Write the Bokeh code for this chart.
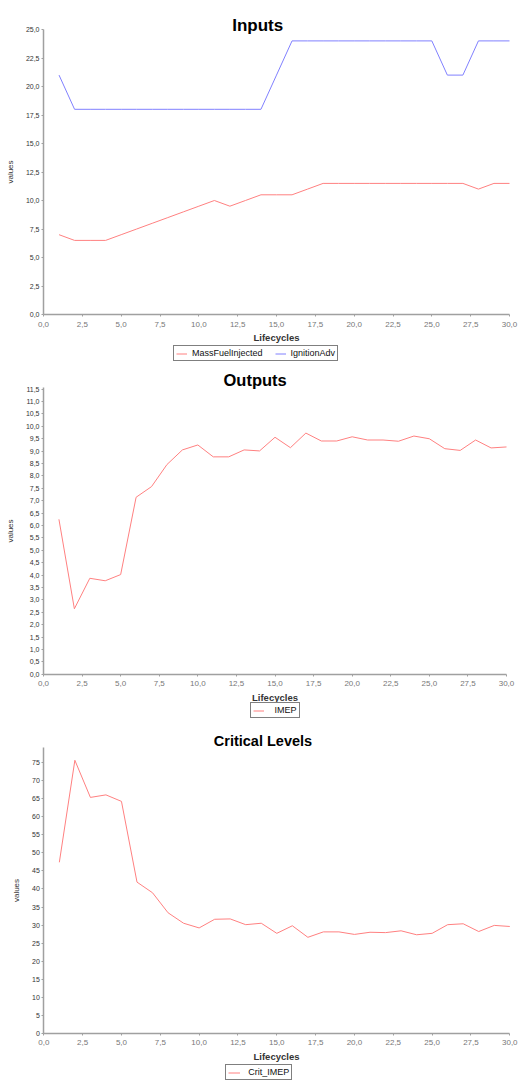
from bokeh.plotting import figure
from bokeh.models import Range1d, FixedTicker, CustomJSTickFormatter, Legend, LegendItem, Label
from bokeh.layouts import column
from bokeh.embed import file_html
from bokeh.resources import INLINE

# ---------------- data ----------------
lifecycles = list(range(1, 31))

mass_fuel_injected = [7.0, 6.5, 6.5, 6.5, 7.0, 7.5, 8.0, 8.5, 9.0, 9.5,
                      10.0, 9.5, 10.0, 10.5, 10.5, 10.5, 11.0, 11.5, 11.5, 11.5,
                      11.5, 11.5, 11.5, 11.5, 11.5, 11.5, 11.5, 11.0, 11.5, 11.5]
ignition_adv = [21, 18, 18, 18, 18, 18, 18, 18, 18, 18,
                18, 18, 18, 18, 21, 24, 24, 24, 24, 24,
                24, 24, 24, 24, 24, 21, 21, 24, 24, 24]

imep = [6.25, 2.64, 3.87, 3.77, 4.02, 7.14, 7.57, 8.46, 9.05, 9.25,
        8.77, 8.77, 9.05, 9.01, 9.56, 9.14, 9.73, 9.41, 9.41, 9.58,
        9.45, 9.45, 9.40, 9.61, 9.50, 9.10, 9.03, 9.45, 9.13, 9.17]

crit_imep = [47.4, 75.7, 65.4, 66.1, 64.3, 41.9, 38.95, 33.4, 30.5, 29.2,
             31.6, 31.7, 30.1, 30.5, 27.7, 29.8, 26.6, 28.1, 28.1, 27.4,
             28.0, 27.9, 28.4, 27.3, 27.7, 30.1, 30.35, 28.2, 29.9, 29.6]

x_ticks = [0, 2.5, 5, 7.5, 10, 12.5, 15, 17.5, 20, 22.5, 25, 27.5, 30]
inputs_y_ticks = [0, 2.5, 5, 7.5, 10, 12.5, 15, 17.5, 20, 22.5, 25]
outputs_y_ticks = [0, 0.5, 1, 1.5, 2, 2.5, 3, 3.5, 4, 4.5, 5, 5.5, 6, 6.5, 7, 7.5,
                   8, 8.5, 9, 9.5, 10, 10.5, 11, 11.5]
crit_y_ticks = [0, 5, 10, 15, 20, 25, 30, 35, 40, 45, 50, 55, 60, 65, 70, 75]

RED = "#ff8080"
BLUE = "#8080ff"
FONT = "Liberation Sans"
W = 519


def make_fig(fig_top, fig_h, x0_px, x30_px, hi_val, hi_px, lo_px, axis_top, y_ticks,
             y_fmt_code, title, title_px, title_size, series, legend_cfg):
    # layout: the frame covers the whole figure; ranges derived from pixel anchors
    xs = (x30_px - x0_px) / 30.0
    x_start = -x0_px / xs
    x_end = 30 + (W - x30_px) / xs
    ys = (lo_px - hi_px) / hi_val
    y_end = hi_val + (hi_px - fig_top) / ys
    y_start = -(fig_top + fig_h - lo_px) / ys

    p = figure(width=W, height=fig_h, x_range=Range1d(x_start, x_end),
               y_range=Range1d(y_start, y_end),
               output_backend="svg", toolbar_location=None, title=None,
               min_border=0, min_border_left=0, min_border_right=0,
               min_border_top=0, min_border_bottom=0)
    p.outline_line_color = None
    p.xgrid.visible = False
    p.ygrid.visible = False
    p.background_fill_color = "white"
    p.border_fill_color = "white"

    def scr(px, py):
        return px, fig_top + fig_h - py

    x_fmt = CustomJSTickFormatter(code="return tick.toFixed(1).replace('.', ',');")
    y_fmt = CustomJSTickFormatter(code=y_fmt_code)
    for ax, ticks, fmt in ((p.xaxis[0], x_ticks, x_fmt), (p.yaxis[0], y_ticks, y_fmt)):
        ax.ticker = FixedTicker(ticks=ticks)
        ax.formatter = fmt
        ax.fixed_location = 0
        ax.minor_tick_line_color = None
        ax.major_tick_in = 0
        ax.major_tick_out = 2
        ax.axis_line_color = "#a0a0a0"
        ax.axis_line_width = 1.5
        ax.major_tick_line_color = "#a0a0a0"
        ax.major_label_text_font = FONT
        ax.axis_label_text_font = FONT

    p.xaxis.bounds = (0, 30)
    p.xaxis.major_label_text_font_size = "8px"
    p.xaxis.major_label_text_color = "#777777"
    p.xaxis.major_label_standoff = 5
    p.xaxis.axis_label = "Lifecycles"
    p.xaxis.axis_label_text_font_size = "9.5px"
    p.xaxis.axis_label_text_font_style = "bold"
    p.xaxis.axis_label_text_color = "#333333"
    p.xaxis.axis_label_standoff = 2

    p.yaxis.bounds = (0, axis_top)
    p.yaxis.major_label_text_font_size = "7px"
    p.yaxis.major_label_text_color = "#333333"
    p.yaxis.major_label_standoff = 2
    p.yaxis.axis_label = "values"
    p.yaxis.axis_label_text_font_size = "8px"
    p.yaxis.axis_label_text_font_style = "normal"
    p.yaxis.axis_label_text_color = "#333333"
    p.yaxis.axis_label_standoff = 8

    items = []
    for name, vals, color in series:
        r = p.line(lifecycles, vals, line_color=color, line_width=1)
        items.append(LegendItem(label=name, renderers=[r]))

    lpx, lpy, glyph_w, standoff, spacing = legend_cfg
    legend = Legend(items=items, location=scr(lpx, lpy), orientation="horizontal",
                    border_line_color="black", border_line_width=1,
                    background_fill_color="white", background_fill_alpha=1.0,
                    padding=2, spacing=spacing, margin=0,
                    glyph_width=glyph_w, glyph_height=9, label_height=9,
                    label_standoff=standoff,
                    label_text_font=FONT, label_text_font_size="9px",
                    label_text_color="#111111")
    p.add_layout(legend)

    tx, ty = scr(*title_px)
    p.add_layout(Label(x=tx, y=ty, x_units="screen", y_units="screen", text=title,
                       text_align="left", text_baseline="alphabetic",
                       text_font=FONT, text_font_style="bold",
                       text_font_size=title_size, text_color="black"))
    return p


p1 = make_fig(0, 364, 43, 509, 25, 29, 314, 25, inputs_y_ticks,
              "return tick.toFixed(1).replace('.', ',');",
              "Inputs", (231.7, 25), "17px",
              [("MassFuelInjected", mass_fuel_injected, RED),
               ("IgnitionAdv", ignition_adv, BLUE)],
              (173, 361, 11, 5, 12))

p2 = make_fig(364, 356, 43, 506, 11.5, 388.7, 673.7, 11.55, outputs_y_ticks,
              "return tick.toFixed(1).replace('.', ',');",
              "Outputs", (223, 379.5), "16.5px",
              [("IMEP", imep, RED)],
              (249.5, 718, 11, 11, 12))

p3 = make_fig(720, 361, 43.3, 509.3, 75, 762.3, 1032.7, 79.33, crit_y_ticks,
              "return tick.toFixed(0);",
              "Critical Levels", (213.3, 740), "14.5px",
              [("Crit_IMEP", crit_imep, RED)],
              (225.3, 1080, 12, 8, 12))

layout = column(p1, p2, p3)
open("out.html", "w").write(file_html(layout, INLINE))
